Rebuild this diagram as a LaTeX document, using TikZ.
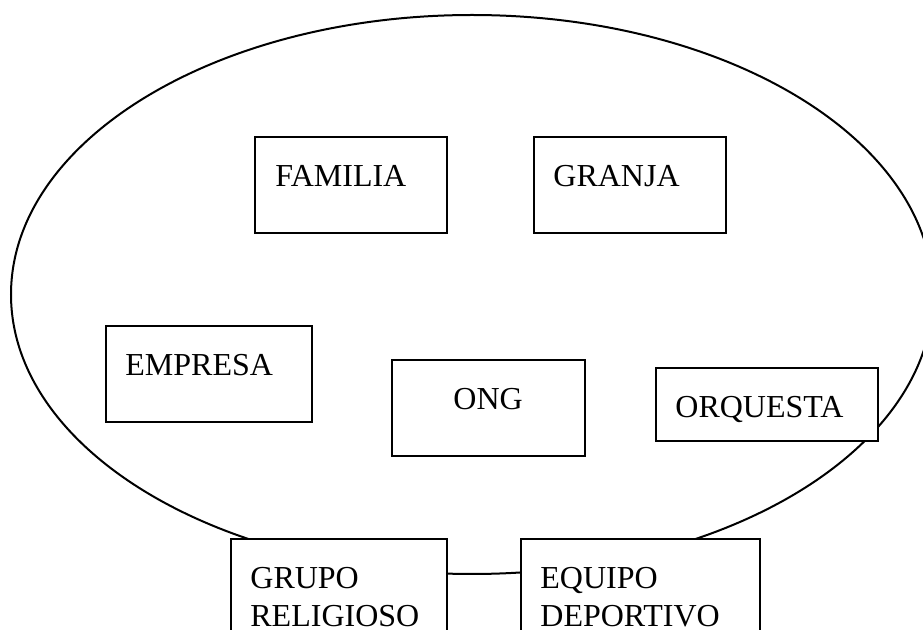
\documentclass[tikz,border=0pt]{standalone}
\usepackage{fontspec}
\setmainfont{Liberation Serif}
\usetikzlibrary{shapes.geometric}

\begin{document}
\begin{tikzpicture}[
	x=0.5pt, y=-0.5pt,
	caja/.style={
		draw, fill=white, line width=1pt,
		rectangle, anchor=north west, inner sep=0pt
	},
	texto/.style={
		anchor=base west, inner sep=0pt, align=left,
		font=\fontsize{16}{19}\selectfont
	}
	]
	\clip (0,0) rectangle (923,630);
	% el conjunto
	\node[draw, ellipse, line width=1pt, inner sep=0pt,
		minimum width=461pt, minimum height=279.5pt] (conjunto) at (472,294.5) {};
	% las cajas
	\node[caja, minimum width=96pt, minimum height=48pt] (familia) at (254,136) {};
	\node[caja, minimum width=96pt, minimum height=48pt] (granja) at (533,136) {};
	\node[caja, minimum width=103pt, minimum height=48pt] (empresa) at (105,325) {};
	\node[caja, minimum width=96.5pt, minimum height=48pt] (ong) at (391,359) {};
	\node[caja, minimum width=111pt, minimum height=36.5pt] (orquesta) at (655,367) {};
	\node[caja, minimum width=108pt, minimum height=72pt] (grupo) at (230,538) {};
	\node[caja, minimum width=119.5pt, minimum height=72pt] (equipo) at (520,538) {};
	% los textos (en dos renglones la base es la del ultimo)
	\node[texto] (familiaT) at (275,187) {FAMILIA};
	\node[texto] (granjaT) at (553,187) {GRANJA};
	\node[texto] (empresaT) at (125,376) {EMPRESA};
	\node[texto] (ongT) at (453,410) {ONG};
	\node[texto] (orquestaT) at (675,418) {ORQUESTA};
	\node[texto] (grupoT) at (250,627) {GRUPO\\RELIGIOSO};
	\node[texto] (equipoT) at (540,627) {EQUIPO\\DEPORTIVO};
\end{tikzpicture}
\end{document}
